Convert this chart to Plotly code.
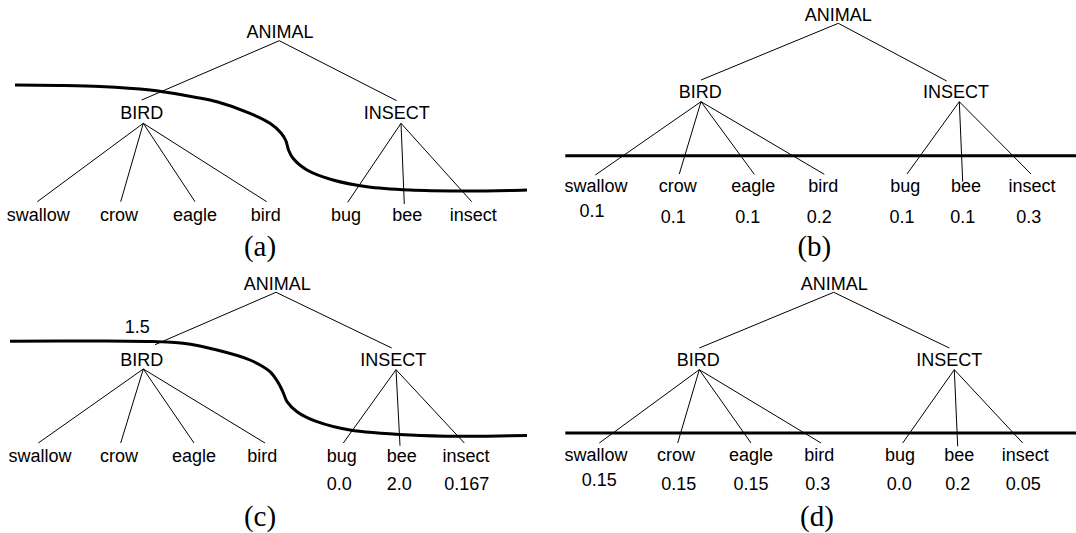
import plotly.graph_objects as go

# ---- data ----
ROOT = "ANIMAL"
INNER = ["BIRD", "INSECT"]
LEAVES = ["swallow", "crow", "eagle", "bird", "bug", "bee", "insect"]
PARENT = [0, 0, 0, 0, 1, 1, 1]          # index into INNER for each leaf
VALUES_B = [0.1, 0.1, 0.1, 0.2, 0.1, 0.1, 0.3]
VALUES_C = [None, None, None, None, 0.0, 2.0, 0.167]
VALUES_D = [0.15, 0.15, 0.15, 0.3, 0.0, 0.2, 0.05]
BIRD_WEIGHT_C = 1.5
PANEL_LABELS = ["(a)", "(b)", "(c)", "(d)"]

# ---- layout geometry (pixel space) ----
panels = [
    dict(  # (a)
        root=(280, 31), root_anchor=(279.3, 40.7),
        inner=[(141.7, 112.7), (396.7, 112.7)],
        inner_top=[(141.7, 100), (396.7, 100.7)],
        inner_bot=[(143.3, 123.3), (401, 123.3)],
        leaf_top=[(37.3, 201.7), (120.7, 201.7), (195, 201.7), (266.7, 201.7),
                  (347.7, 202.3), (404.3, 204), (471.7, 201.7)],
        leaf=[(38.3, 214.3), (119, 214.3), (195, 214.3), (265.7, 214.3),
              (346, 214.3), (407.3, 214.3), (473.3, 214.3)],
        values=None, val_pos=None,
        cut_x=[15, 60, 100, 150, 183, 217, 250, 270, 281, 286, 288.5, 293, 307, 333, 367, 410, 460, 510, 527],
        cut_y=[85, 85.5, 86.5, 90, 95, 101.7, 113.3, 123.3, 133, 141, 150, 158.3, 170, 180, 186.7, 190, 191, 190.5, 190],
        label=(260, 246.7),
    ),
    dict(  # (b)
        root=(838.3, 14), root_anchor=(838.3, 23.3),
        inner=[(700.3, 91.7), (956, 91.7)],
        inner_top=[(701, 80), (946.7, 81)],
        inner_bot=[(701, 101.7), (959.3, 101.7)],
        leaf_top=[(595.3, 175), (679.3, 174), (754.3, 174.3), (824.3, 174.3),
                  (907, 174), (962.7, 181.7), (1031, 174)],
        leaf=[(596, 185.7), (677.7, 185.7), (753.3, 185.7), (823.3, 185.7),
              (905.3, 185.7), (966, 185.7), (1032, 185.7)],
        values=VALUES_B,
        val_pos=[(592, 210.7), (673.3, 216.7), (747.7, 216.7), (819.3, 216.7),
                 (902, 216.7), (962.7, 216.7), (1028.7, 216.7)],
        cut_x=[565.3, 1076], cut_y=[155.7, 155.7],
        label=(814.3, 246.7),
    ),
    dict(  # (c)
        root=(277.3, 283), root_anchor=(276, 292.3),
        inner=[(141.7, 359.7), (393.3, 359.7)],
        inner_top=[(155, 344.7), (391.7, 348)],
        inner_bot=[(143.3, 369), (396, 369.7)],
        leaf_top=[(38.3, 443), (120.7, 443), (194, 443), (265, 443),
                  (343.3, 443), (400, 445.7), (464.3, 443)],
        leaf=[(40, 455.3), (119, 455.3), (194, 455.3), (262.3, 455.3),
              (341.7, 455.3), (401.7, 455.3), (466, 455.3)],
        values=VALUES_C,
        val_pos=[None, None, None, None, (339.3, 483.7), (399.3, 483.7), (466.7, 483.7)],
        cut_x=[10, 60, 100, 150, 183, 217, 250, 270, 279, 283.5, 287, 297, 317, 350, 410, 460, 510, 527],
        cut_y=[341.3, 341, 341, 341.5, 343.3, 350, 360, 371.7, 384, 393.3, 401.7, 411.7, 421.7, 430, 435, 436.3, 435.7, 435.5],
        label=(260, 516.3),
    ),
    dict(  # (d)
        root=(834.3, 283), root_anchor=(833.7, 292.3),
        inner=[(698.3, 359.7), (949.3, 359.7)],
        inner_top=[(699.3, 348), (949.3, 348)],
        inner_bot=[(699.3, 369.7), (954.3, 369.7)],
        leaf_top=[(599.3, 443), (677.7, 443), (751, 443), (821, 443),
                  (902.7, 443), (957.7, 446.3), (1022.7, 443)],
        leaf=[(596, 454.7), (676, 454.7), (751, 454.7), (819.3, 454.7),
              (900, 454.7), (959.3, 454.7), (1025.3, 454.7)],
        values=VALUES_D,
        val_pos=[(599.3, 479.7), (678.7, 483.7), (751, 483.7), (817.7, 483.7),
                 (899.3, 483.7), (957.7, 483.7), (1023.3, 483.7)],
        cut_x=[565.3, 1076], cut_y=[433, 433],
        label=(817, 516.3),
    ),
]

W, H = 1076, 533
SANS = "Liberation Sans, Arial, sans-serif"
SERIF = "Liberation Serif, DejaVu Serif, serif"
FS = 18
TEXT_DY = 2      # baseline correction for sans labels
LABEL_DY = 2     # baseline correction for panel labels

fig = go.Figure()

for pi, p in enumerate(panels):
    # tree edges
    ex, ey = [], []
    for k in range(2):
        ex += [p["root_anchor"][0], p["inner_top"][k][0], None]
        ey += [p["root_anchor"][1], p["inner_top"][k][1], None]
    for i in range(len(LEAVES)):
        par = p["inner_bot"][PARENT[i]]
        ex += [par[0], p["leaf_top"][i][0], None]
        ey += [par[1], p["leaf_top"][i][1], None]
    fig.add_trace(go.Scatter(x=ex, y=ey, mode="lines",
                             line=dict(color="black", width=1),
                             hoverinfo="skip", showlegend=False))
    # cut line
    fig.add_trace(go.Scatter(x=p["cut_x"], y=p["cut_y"], mode="lines",
                             line=dict(color="black", width=3,
                                       shape="spline" if len(p["cut_x"]) > 2 else "linear",
                                       smoothing=0.8),
                             hoverinfo="skip", showlegend=False))
    # node labels
    tx = [p["root"][0]] + [q[0] for q in p["inner"]] + [q[0] for q in p["leaf"]]
    ty = [p["root"][1]] + [q[1] for q in p["inner"]] + [q[1] for q in p["leaf"]]
    tt = [ROOT] + INNER + LEAVES
    if p["values"] is not None:
        for v, pos in zip(p["values"], p["val_pos"]):
            if v is None:
                continue
            tx.append(pos[0]); ty.append(pos[1]); tt.append(str(v))
    if pi == 2:
        tx.append(137.3); ty.append(326.3); tt.append(str(BIRD_WEIGHT_C))
    ty = [y + TEXT_DY for y in ty]
    fig.add_trace(go.Scatter(x=tx, y=ty, text=tt, mode="text",
                             textposition="middle center", cliponaxis=False,
                             textfont=dict(family=SANS, size=FS, color="black"),
                             hoverinfo="skip", showlegend=False))
    fig.add_trace(go.Scatter(x=[p["label"][0]], y=[p["label"][1] + LABEL_DY],
                             text=[PANEL_LABELS[pi]], mode="text",
                             textposition="middle center", cliponaxis=False,
                             textfont=dict(family=SERIF, size=29, color="black"),
                             hoverinfo="skip", showlegend=False))

fig.update_layout(
    width=W, height=H,
    margin=dict(l=0, r=0, t=0, b=0),
    paper_bgcolor="white", plot_bgcolor="white",
    xaxis=dict(range=[0, W], visible=False, fixedrange=True),
    yaxis=dict(range=[H, 0], visible=False, fixedrange=True),
)

fig.write_html(
    "out.html",
    config={"displayModeBar": False},
    post_script="document.body.style.margin='0';document.body.style.overflow='hidden';",
)
